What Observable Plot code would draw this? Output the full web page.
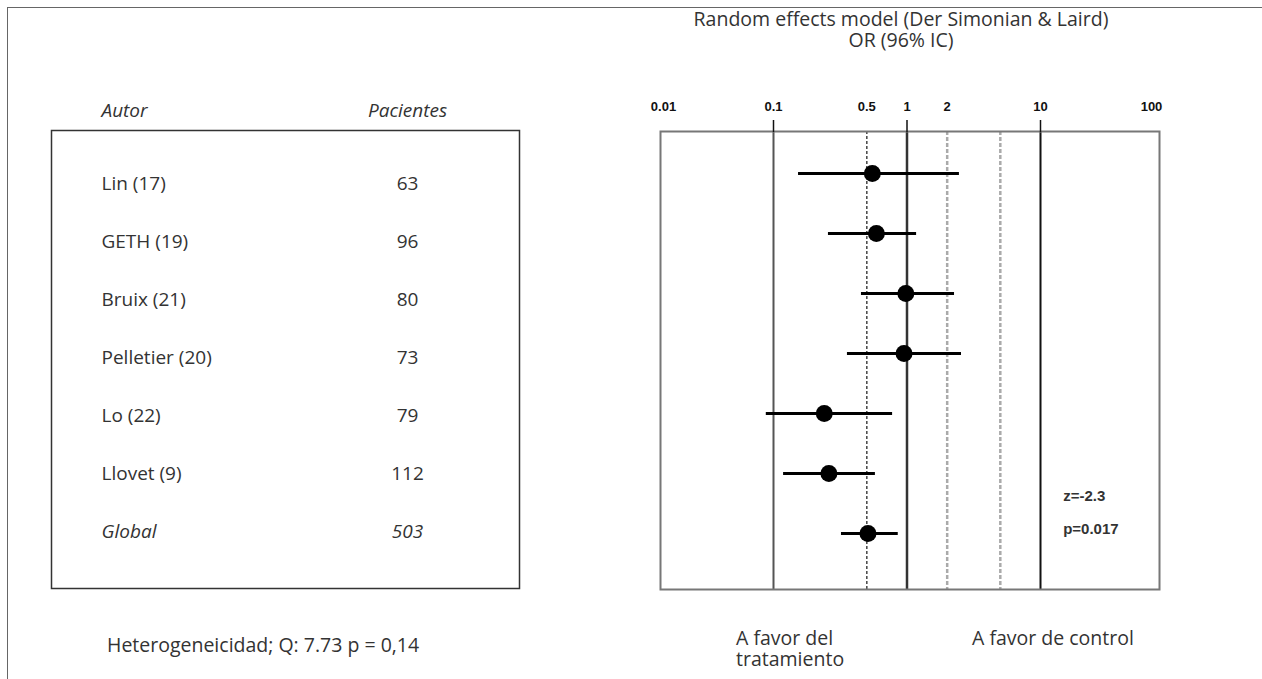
<!DOCTYPE html>
<html>
<head>
<meta charset="utf-8">
<script src="https://cdn.jsdelivr.net/npm/d3@7"></script>
<script src="https://cdn.jsdelivr.net/npm/@observablehq/plot@0.6"></script>
<style>
  body { margin: 0; background: #fff; }
  #wrap { position: relative; width: 1262px; height: 679px; overflow: hidden; font-family: "Open Sans", sans-serif; color: #333; }
  #border { position: absolute; left: 7px; top: 7px; width: 1300px; height: 700px; border-left: 1.5px solid #666; border-top: 1.5px solid #666; }
  .txt { position: absolute; font-size: 19.5px; font-weight: 400; white-space: nowrap; line-height: 21px; }
  #left { position: absolute; left: 0; top: 0; }
  #right { position: absolute; left: 560px; top: 0; }
</style>
</head>
<body>
<div id="wrap">
  <div id="border"></div>
  <div id="left"></div>
  <div id="right"></div>
  <div class="txt" style="left:640px;width:522px;top:8px;text-align:center;">Random effects model (Der Simonian &amp; Laird)<br>OR (96% IC)</div>
  <div class="txt" style="left:107px;top:634px;">Heterogeneicidad; Q: 7.73 p = 0,14</div>
  <div class="txt" style="left:736px;top:627px;">A favor del<br>tratamiento</div>
  <div class="txt" style="left:972px;top:627px;">A favor de control</div>
</div>
<script>
// ---- data ----
const autores   = ["Lin (17)", "GETH (19)", "Bruix (21)", "Pelletier (20)", "Lo (22)", "Llovet (9)", "Global"];
const pacientes = [63, 96, 80, 73, 79, 112, 503];
const orEst     = [0.55, 0.59, 0.98, 0.95, 0.24, 0.26, 0.51];
const ciLow     = [0.154, 0.258, 0.456, 0.358, 0.086, 0.119, 0.323];
const ciHigh    = [2.47, 1.18, 2.27, 2.56, 0.78, 0.58, 0.86];
const columnas  = ["Autor", "Pacientes"];
const tickValues = [0.01, 0.1, 0.5, 1, 2, 10, 100];
const tickLabels = ["0.01", "0.1", "0.5", "1", "2", "10", "100"];
const majorTicks = [0.1, 1, 10];
const refLines   = [0.1, 0.5, 1, 2, 5, 10];
const statLabels = ["z=-2.3", "p=0.017"];
const statX = 16;

const rows = autores.map((a, i) => ({autor: a, n: pacientes[i], or: orEst[i], lo: ciLow[i], hi: ciHigh[i]}));
const studies = rows.filter(d => d.autor !== "Global");
const global = rows.filter(d => d.autor === "Global");
const ticks = tickValues.map((v, i) => ({v, label: tickLabels[i]}));
const minorTicks = ticks.filter(t => !majorTicks.includes(t.v));
const labelOf = d => tickLabels[tickValues.indexOf(d)];

// ---- left table ----
const left = Plot.plot({
  width: 560, height: 679,
  marginLeft: 51, marginRight: 41, marginTop: 130, marginBottom: 91,
  style: {fontFamily: "Open Sans, sans-serif", fontSize: "19px", fontWeight: 400, color: "#333", background: "transparent", overflow: "visible"},
  x: {type: "point", domain: columnas, range: [101, 407], padding: 0, axis: null},
  y: {type: "point", domain: autores, range: [181, 532], padding: 0, axis: null},
  marks: [
    Plot.frame({stroke: "#333", strokeWidth: 1.5}),
    Plot.text([columnas[0]], {x: d => d, frameAnchor: "top", dy: -14, lineAnchor: "bottom", textAnchor: "start", fontStyle: "italic", text: d => d}),
    Plot.text([columnas[1]], {x: d => d, frameAnchor: "top", dy: -14, lineAnchor: "bottom", textAnchor: "middle", fontStyle: "italic", text: d => d}),
    Plot.text(studies, {x: () => columnas[0], y: "autor", text: "autor", textAnchor: "start"}),
    Plot.text(studies, {x: () => columnas[1], y: "autor", text: d => String(d.n), textAnchor: "middle"}),
    Plot.text(global, {x: () => columnas[0], y: "autor", text: "autor", textAnchor: "start", fontStyle: "italic"}),
    Plot.text(global, {x: () => columnas[1], y: "autor", text: d => String(d.n), textAnchor: "middle", fontStyle: "italic"})
  ]
});
document.getElementById("left").appendChild(left);

// ---- forest plot ----
const right = Plot.plot({
  width: 702, height: 679,
  marginLeft: 100, marginRight: 103, marginTop: 131, marginBottom: 90,
  style: {fontFamily: "Liberation Sans, Arial, sans-serif", fontSize: "13px", fontWeight: "bold", color: "#111", background: "transparent", overflow: "visible"},
  x: {type: "log", domain: [0.01, 0.1, 10, 100], range: [103, 213, 480, 591], axis: null},
  y: {type: "point", domain: autores, range: [172, 533], padding: 0, axis: null},
  marks: [
    Plot.ruleX(refLines.filter(v => v === 0.1), {stroke: "#555", strokeWidth: 2}),
    Plot.ruleX(refLines.filter(v => v === 0.5), {stroke: "#444", strokeWidth: 1.5, strokeDasharray: "3,2"}),
    Plot.ruleX(refLines.filter(v => v === 2 || v === 5), {stroke: "#aaa", strokeWidth: 2.5, strokeDasharray: "4,2"}),
    Plot.ruleX(refLines.filter(v => v === 1), {stroke: "#333", strokeWidth: 2.5}),
    Plot.ruleX(refLines.filter(v => v === 10), {stroke: "#111", strokeWidth: 2}),
    Plot.frame({stroke: "#777", strokeWidth: 2}),
    Plot.axisX({anchor: "top", ticks: majorTicks, tickSize: 12, tickPadding: 9, tickFormat: labelOf, stroke: "#111", strokeWidth: 1.5, fill: "#111", fontSize: 13, fontWeight: "bold"}),
    Plot.text(minorTicks, {x: "v", text: "label", frameAnchor: "top", dy: -21, lineAnchor: "bottom", fill: "#111", fontSize: 13, fontWeight: "bold"}),
    Plot.ruleY(rows, {y: "autor", x1: "lo", x2: "hi", stroke: "#000", strokeWidth: 3}),
    Plot.dot(rows, {x: "or", y: "autor", r: 8.5, fill: "#000", stroke: null}),
    Plot.text([statLabels.join("\n")], {x: () => statX, y: () => "Global", dy: -27, text: d => d, textAnchor: "start", lineHeight: 2.2, fontSize: 15, fontWeight: "bold", fill: "#333"})
  ]
});
document.getElementById("right").appendChild(right);
</script>
</body>
</html>
